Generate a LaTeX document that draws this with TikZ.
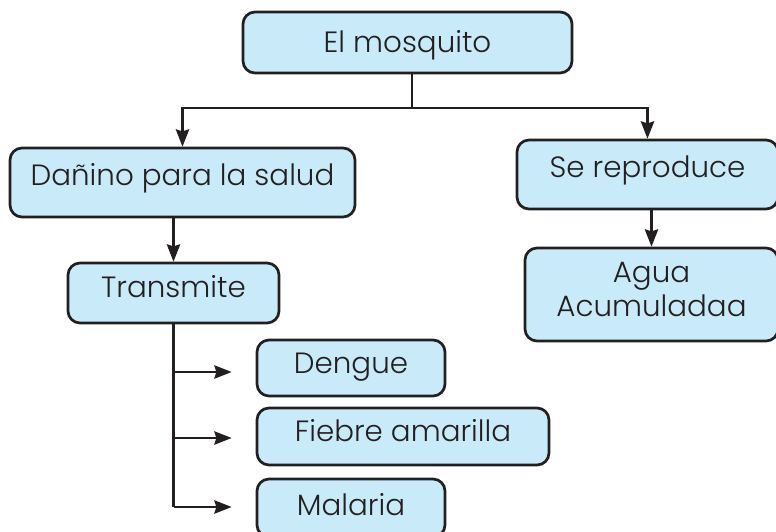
\documentclass[tikz,border=0pt]{standalone}
\usepackage{fontspec}
\setmainfont{Poppins}[UprightFont=* Light]
\usepackage{tikz}
\usetikzlibrary{arrows.meta,positioning}
\definecolor{cajafondo}{RGB}{200,234,249}
\definecolor{tinta}{RGB}{35,31,32}

\begin{document}
\begin{tikzpicture}[x=0.75pt,y=-0.75pt,
		caja/.style={draw=tinta,line width=2pt,fill=cajafondo,rounded corners=9pt,inner sep=0pt,text=tinta,
			font=\fontsize{22}{25.5}\selectfont},
		unalinea/.style={text height=15.5pt,text depth=#1},
		unalinea/.default=0pt,
		flecha/.style={draw=tinta,line width=1.6pt,-{Stealth[length=13pt,width=10pt,inset=1.5pt]}},
		linea/.style={draw=tinta,line width=1.6pt}]
			\useasboundingbox (0,0) rectangle (776,532);
			\clip (0,0) rectangle (776,532);
			
			\node[caja,unalinea,minimum width=246.75pt,minimum height=45.75pt] (mosquito) at (407.5,42.5) {El mosquito};
			
			\node[caja,unalinea=10.5pt,minimum width=258.75pt,minimum height=51.75pt] (danino) at (182.5,182.5) {Dañino para la salud};
			\node[caja,unalinea=10.5pt,minimum width=195.75pt,minimum height=51.75pt] (reproduce) at (647.5,174.5) {Se reproduce};
			
			\node[caja,unalinea=9pt,minimum width=158.25pt,minimum height=45pt] (transmite) at (173.5,293) {Transmite};
			\node[caja,align=center,minimum width=189.75pt,minimum height=69.75pt] (agua) at (651.5,294.5) {Agua\\Acumuladaa\\[-18pt]};
			
			\node[caja,unalinea=7.5pt,minimum width=141pt,minimum height=42pt] (dengue) at (351,368) {Dengue};
			\node[caja,unalinea=7.5pt,minimum width=219pt,minimum height=42.75pt] (fiebre) at (403,436.5) {Fiebre amarilla};
			\node[caja,unalinea=5pt,minimum width=141pt,minimum height=43.5pt] (malaria) at (351,508) {Malaria};
			
			\coordinate (reparto) at (412,108);
			\draw[linea] (mosquito.south -| reparto) -- (reparto);
			\draw[flecha] (reparto) -| (danino.north);
			\draw[flecha] (reparto) -| (reproduce.north);
			
			\draw[flecha] (transmite.north |- danino.south) -- (transmite.north);
			\draw[flecha] (agua.north |- reproduce.south) -- (agua.north);
			
			\coordinate (tronco) at (173.5,507);
			\draw[linea] (transmite.south) -- (tronco);
			\draw[flecha] (tronco |- 0,372) -- ([xshift=-18pt]dengue.west |- 0,372);
			\draw[flecha] (tronco |- 0,438) -- ([xshift=-18pt]fiebre.west |- 0,438);
			\draw[flecha] (tronco) -- ([xshift=-18pt]malaria.west |- tronco);
\end{tikzpicture}
\end{document}
